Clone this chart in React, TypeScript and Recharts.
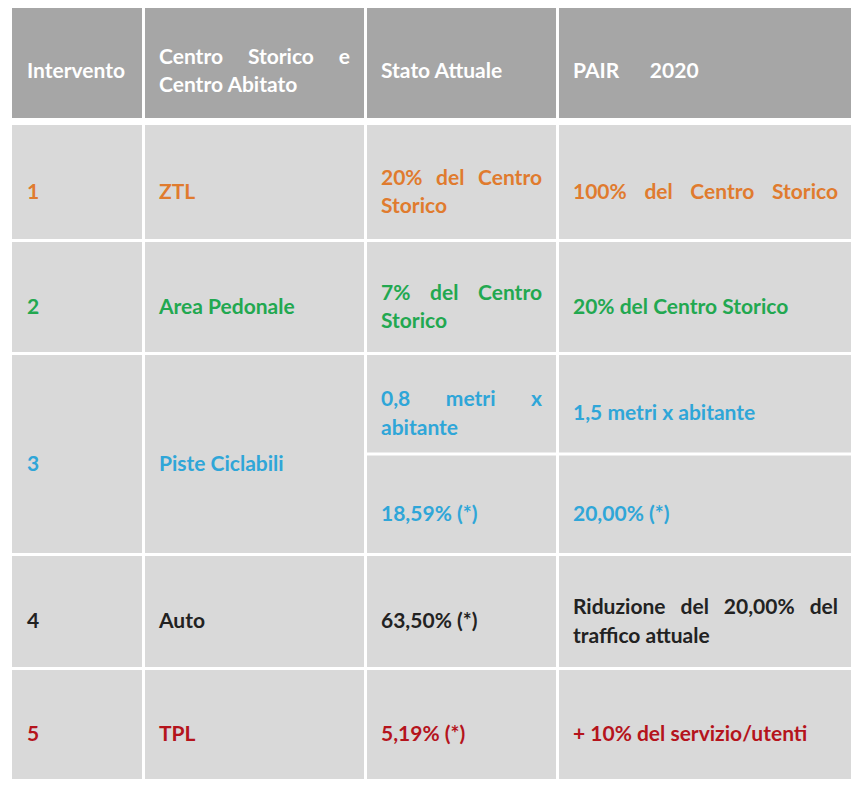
import React from 'react';
import { ComposedChart, XAxis, YAxis, ReferenceArea } from 'recharts';

// ---- table content (data) ----
const headers = ['Intervento', 'Centro Storico e\nCentro Abitato', 'Stato Attuale', 'PAIR\u00a0\u00a0\u00a0\u00a0\u00a0\u00a02020'];
const interventi = ['1', '2', '3', '4', '5'];
const ambiti = ['ZTL', 'Area Pedonale', 'Piste Ciclabili', 'Auto', 'TPL'];
const statoAttuale = [
  ['20% del Centro\nStorico'],
  ['7% del Centro\nStorico'],
  ['0,8 metri x\nabitante', '18,59% (*)'],
  ['63,50% (*)'],
  ['5,19% (*)'],
];
const pair2020 = [
  ['100% del Centro Storico\n'],
  ['20% del Centro Storico'],
  ['1,5 metri x abitante', '20,00% (*)'],
  ['Riduzione del 20,00% del\ntraffico attuale'],
  ['+ 10% del servizio/utenti'],
];
const rowColors = ['#e07b2e', '#22a850', '#2fa6d8', '#222222', '#b5141c'];

// ---- layout / style ----
const W = 859;
const H = 787;
const FONT_FAMILY = 'Lato, "Open Sans", sans-serif';
const FONT_SIZE = 21;
const LINE_H = 29;
const TEXT_DY = 8;
const colX = [12, 145, 367, 559];
const colW = [130, 219, 189, 293];
const padL = [15, 14, 14, 14];
const padR = 14;
const header = { y: 4, h: 114 };
const rowBox = [
  { y: 125, h: 114 },
  { y: 242, h: 110 },
  { y: 355, h: 198 },
  { y: 556, h: 111 },
  { y: 670, h: 109 },
];
const GAP = 3;
const HEADER_FILL = '#a6a6a6';
const BODY_FILL = '#d9d9d9';

let ctx: CanvasRenderingContext2D | null = null;
function measure(text: string): number {
  if (!ctx) {
    const c = document.createElement('canvas');
    ctx = c.getContext('2d');
  }
  if (!ctx) return text.length * FONT_SIZE * 0.5;
  ctx.font = `700 ${FONT_SIZE}px ${FONT_FAMILY}`;
  return ctx.measureText(text).width;
}

type Cell = {
  key: string;
  x1: number;
  x2: number;
  y1: number;
  y2: number;
  fill: string;
  color: string;
  text: string;
  padL: number;
};

function CellShape(props: any) {
  const { x, y, width, height, cell } = props;
  const c: Cell = cell;
  const parts = c.text.split('\n');
  const lines: { t: string; justify: boolean }[] = [];
  parts.forEach((p, i) => {
    if (p.length > 0) lines.push({ t: p, justify: i < parts.length - 1 });
  });
  const n = lines.length;
  const cy = y + height / 2 + TEXT_DY;
  const left = x + c.padL;
  const avail = width - c.padL - padR;
  return (
    <g>
      <rect x={x} y={y} width={width} height={height} fill={c.fill} />
      {lines.map((ln, i) => {
        const ly = cy + (i - (n - 1) / 2) * LINE_H;
        const common = {
          fill: c.color,
          fontFamily: FONT_FAMILY,
          fontSize: FONT_SIZE,
          fontWeight: 700,
          dominantBaseline: 'central' as const,
        };
        if (ln.justify) {
          const words = ln.t.split(' ');
          const ws = words.map((w) => measure(w));
          const total = ws.reduce((a, b) => a + b, 0);
          const g = words.length > 1 ? (avail - total) / (words.length - 1) : 0;
          let cx = left;
          return (
            <text key={i} y={ly} {...common}>
              {words.map((w, j) => {
                const px = cx;
                cx += ws[j] + g;
                return (
                  <tspan key={j} x={px}>
                    {w}
                  </tspan>
                );
              })}
            </text>
          );
        }
        return (
          <text key={i} x={left} y={ly} {...common}>
            {ln.t}
          </text>
        );
      })}
    </g>
  );
}

function buildCells(): Cell[] {
  const cells: Cell[] = [];
  headers.forEach((h, c) => {
    cells.push({
      key: `h${c}`,
      x1: colX[c],
      x2: colX[c] + colW[c],
      y1: header.y,
      y2: header.y + header.h,
      fill: HEADER_FILL,
      color: '#ffffff',
      text: h,
      padL: padL[c],
    });
  });
  interventi.forEach((iv, r) => {
    const rb = rowBox[r];
    const color = rowColors[r];
    const first = [iv, ambiti[r]];
    first.forEach((t, c) => {
      cells.push({
        key: `r${r}c${c}`,
        x1: colX[c],
        x2: colX[c] + colW[c],
        y1: rb.y,
        y2: rb.y + rb.h,
        fill: BODY_FILL,
        color,
        text: t,
        padL: padL[c],
      });
    });
    [statoAttuale[r], pair2020[r]].forEach((subs, k) => {
      const c = k + 2;
      const m = subs.length;
      const sh = (rb.h - GAP * (m - 1)) / m;
      subs.forEach((t, s) => {
        const sy = rb.y + s * (sh + GAP);
        cells.push({
          key: `r${r}c${c}s${s}`,
          x1: colX[c],
          x2: colX[c] + colW[c],
          y1: sy,
          y2: sy + sh,
          fill: BODY_FILL,
          color,
          text: t,
          padL: padL[c],
        });
      });
    });
  });
  return cells;
}

export default function App() {
  const cells = buildCells();
  return (
    <div style={{ margin: '-8px 0 0 -8px', width: W, height: H, background: '#ffffff' }}>
      <ComposedChart
        width={W}
        height={H}
        data={[{ x: 0, y: 0 }]}
        margin={{ top: 0, right: 0, bottom: 0, left: 0 }}
      >
        <XAxis type="number" dataKey="x" domain={[0, W]} hide allowDataOverflow />
        <YAxis type="number" dataKey="y" domain={[0, H]} reversed hide allowDataOverflow width={0} />
        {cells.map((c) => (
          <ReferenceArea
            key={c.key}
            x1={c.x1}
            x2={c.x2}
            y1={c.y1}
            y2={c.y2}
            ifOverflow="visible"
            isFront
            shape={(p: any) => <CellShape {...p} cell={c} />}
          />
        ))}
      </ComposedChart>
    </div>
  );
}
